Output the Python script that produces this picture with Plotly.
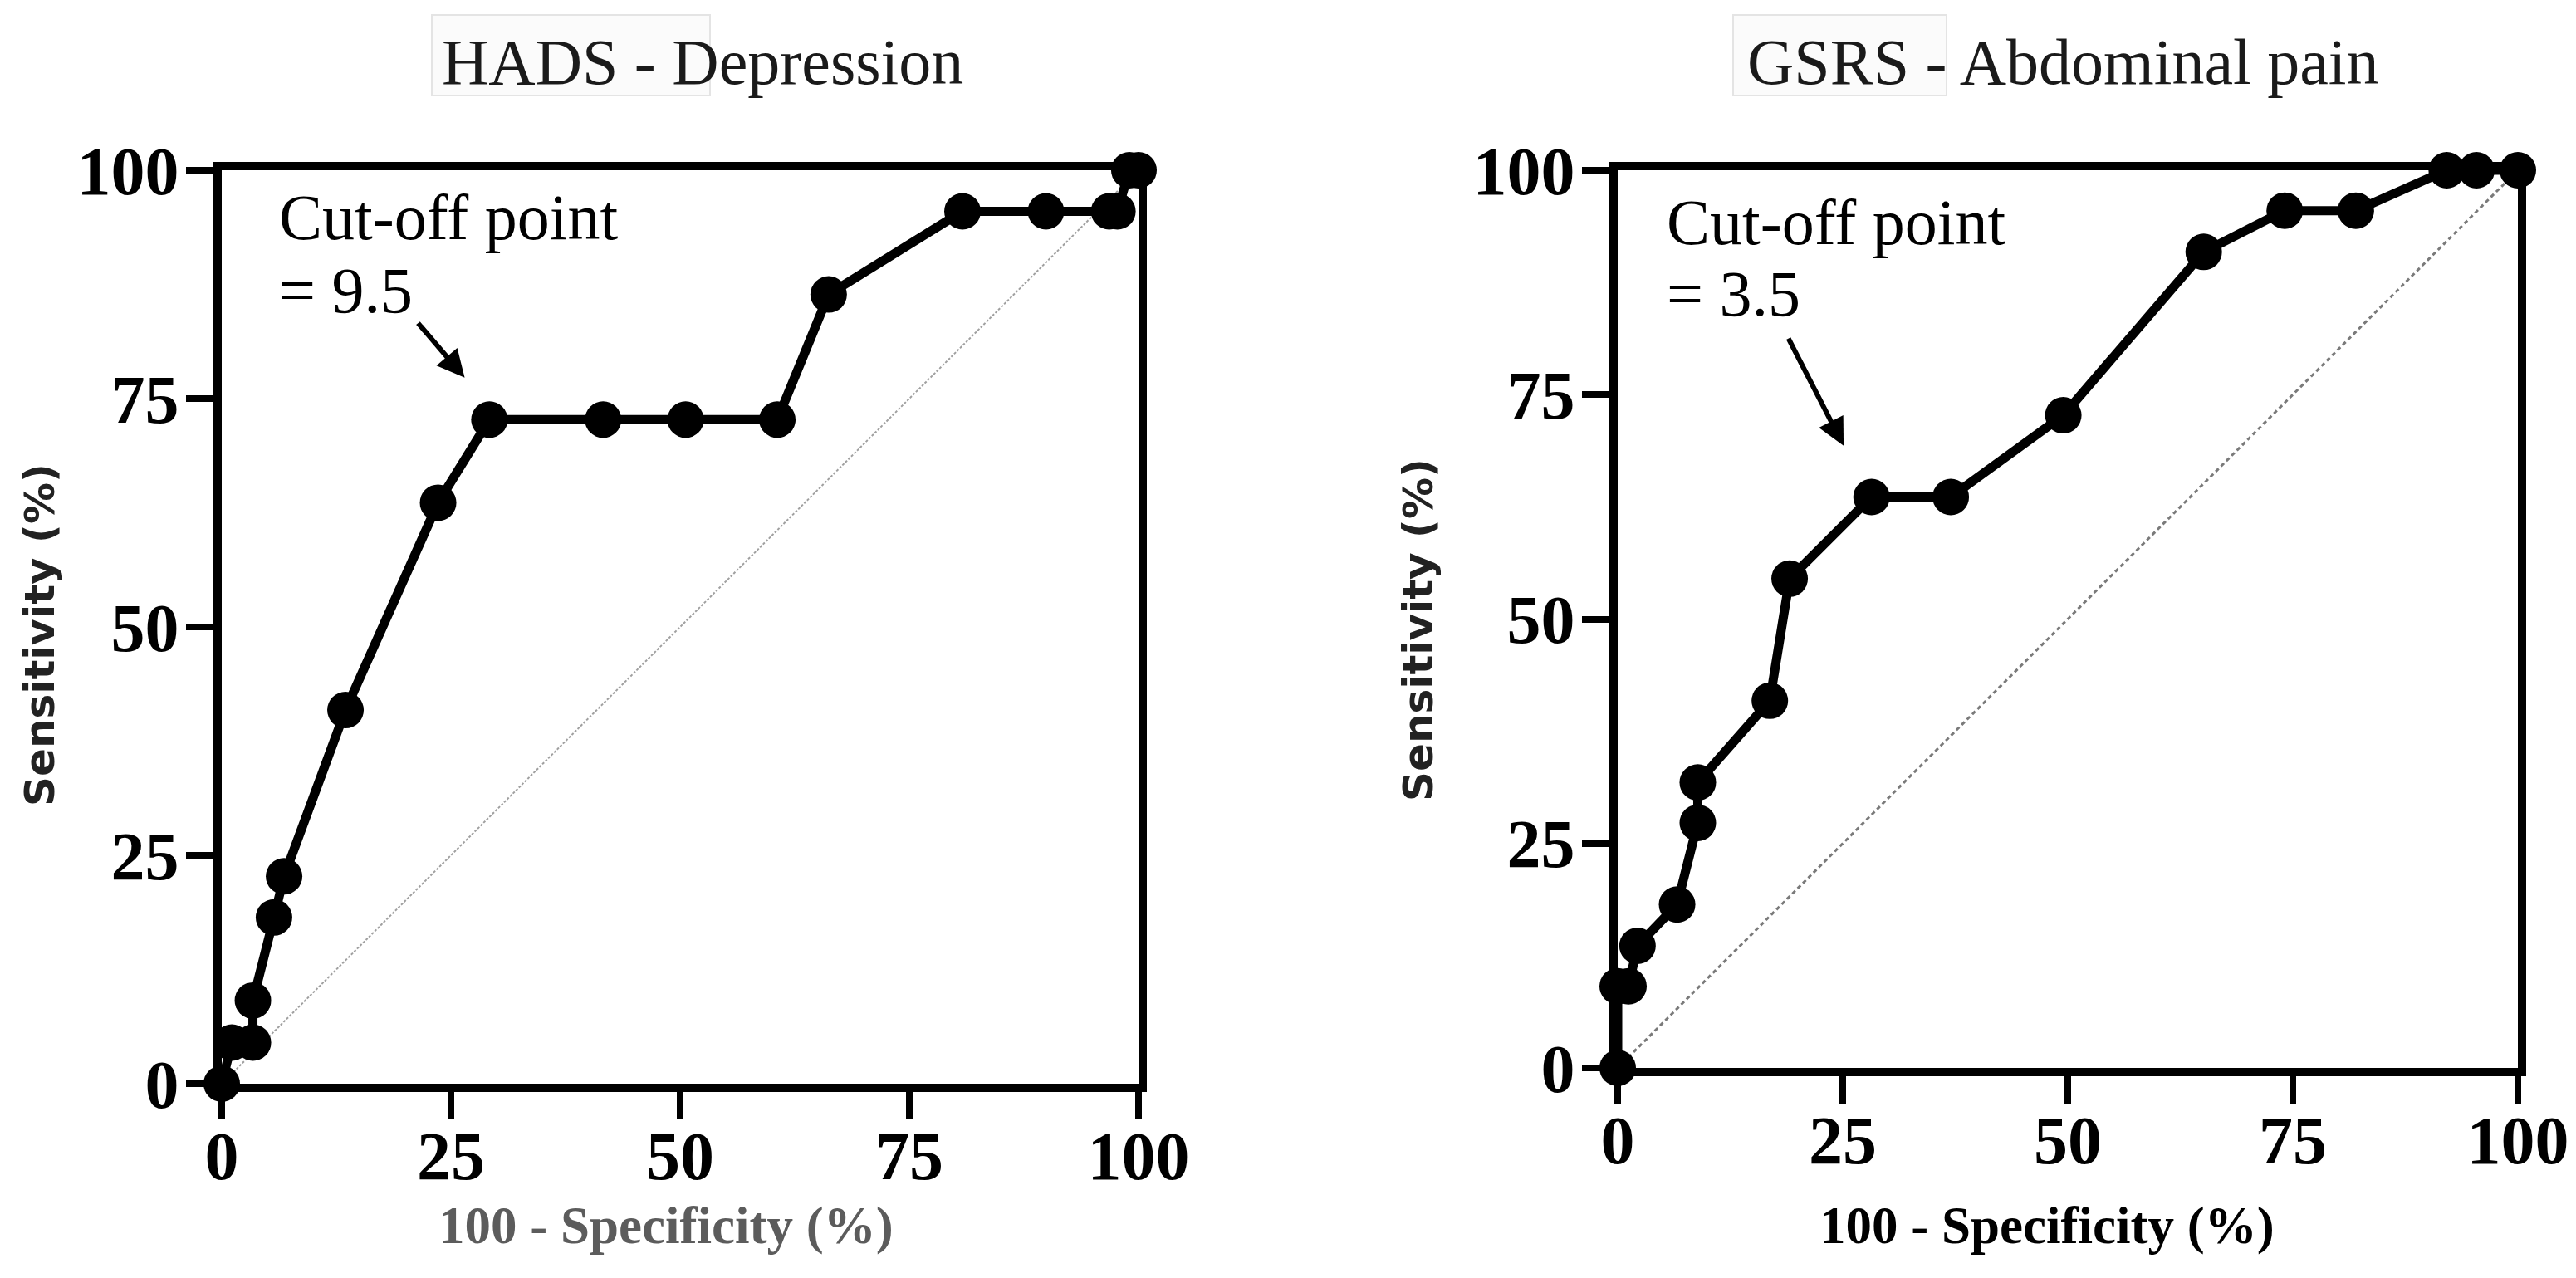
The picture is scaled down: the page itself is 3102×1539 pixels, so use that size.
import plotly.graph_objects as go

# HADS - Depression ROC curve (100 - specificity, sensitivity), in %
hads_fpr = [0, 1.1, 3.4, 3.4, 5.7, 6.8, 13.5, 23.6, 29.2, 41.6, 50.6, 60.6, 66.2, 80.8, 89.9, 96.8, 97.7, 99.0, 100]
hads_sens = [0, 4.5, 4.5, 9.1, 18.2, 22.7, 40.9, 63.6, 72.7, 72.7, 72.7, 72.7, 86.4, 95.5, 95.5, 95.5, 95.5, 100, 100]

# GSRS - Abdominal pain ROC curve
gsrs_fpr = [0, 0, 1.2, 2.2, 6.6, 8.9, 8.9, 16.9, 19.1, 28.2, 37.0, 49.5, 65.1, 74.1, 82.0, 92.1, 95.4, 100]
gsrs_sens = [0, 9.1, 9.1, 13.6, 18.2, 27.3, 31.8, 40.9, 54.5, 63.6, 63.6, 72.7, 90.9, 95.5, 95.5, 100, 100, 100]

diag = [0, 100]
tick_vals = [0, 25, 50, 75, 100]
tick_text = ["0", "25", "50", "75", "100"]

titles = ["HADS - Depression", "GSRS - Abdominal pain"]
cutoff_labels = ["= 9.5", "= 3.5"]
x_title = "100 - Specificity (%)"
y_title = "Sensitivity (%)"

W, H = 3102, 1539
SERIF = "Liberation Serif, Times New Roman, serif"
SANS = "DejaVu Sans, Verdana, sans-serif"

fig = go.Figure()

# diagonal reference lines
fig.add_trace(go.Scatter(x=diag, y=diag, mode="lines", xaxis="x", yaxis="y",
                         line=dict(color="#a0a0a0", width=2, dash="3px,2px"),
                         hoverinfo="skip", showlegend=False))
fig.add_trace(go.Scatter(x=diag, y=diag, mode="lines", xaxis="x2", yaxis="y2",
                         line=dict(color="#7a7a7a", width=3, dash="5px,4px"),
                         hoverinfo="skip", showlegend=False))

# ROC curves
fig.add_trace(go.Scatter(x=hads_fpr, y=hads_sens, mode="lines+markers", xaxis="x", yaxis="y",
                         line=dict(color="black", width=11),
                         marker=dict(size=44, color="black"),
                         cliponaxis=False, showlegend=False))
fig.add_trace(go.Scatter(x=gsrs_fpr, y=gsrs_sens, mode="lines+markers", xaxis="x2", yaxis="y2",
                         line=dict(color="black", width=11),
                         marker=dict(size=44, color="black"),
                         cliponaxis=False, showlegend=False))


def axis_style(domain, anchor, standoff):
    return dict(
        domain=domain, anchor=anchor, range=[0, 100], automargin=False,
        tickvals=tick_vals, ticktext=tick_text,
        showgrid=False, zeroline=False,
        showline=True, linecolor="black", linewidth=10, mirror=True,
        ticks="outside", ticklen=33, tickwidth=8, tickcolor="black",
        tickfont=dict(family=SERIF, size=82, color="black", weight="bold"),
        ticklabelstandoff=standoff,
        fixedrange=True,
    )


# plot areas (pixel positions)
left_dom_x = [259 / W, 1363 / W]
left_dom_y = [(H - 1297) / H, (H - 197) / H]
right_dom_x = [1940 / W, 3024 / W]
right_dom_y = [(H - 1278) / H, (H - 197) / H]

fig.update_layout(
    width=W, height=H,
    margin=dict(l=0, r=0, t=0, b=0, pad=0),
    paper_bgcolor="white", plot_bgcolor="white",
    xaxis=axis_style(left_dom_x, "y", -26),
    yaxis=axis_style(left_dom_y, "x", -8),
    xaxis2=axis_style(right_dom_x, "y2", -26),
    yaxis2=axis_style(right_dom_y, "x2", -8),
)

annotations = []

# panel titles
for cx, txt in zip([838, 2476], titles):
    annotations.append(dict(xref="paper", yref="paper", x=cx / W, y=1 - 66 / H,
                            text=txt, showarrow=False, xanchor="center", yanchor="middle",
                            font=dict(family=SERIF, size=78, color="#1a1a1a")))

# axis titles
for cx, col in zip([794, 2457], ["#5c5c5c", "black"]):
    annotations.append(dict(xref="paper", yref="paper", x=cx / W, y=1 - 1468 / H,
                            text=x_title, showarrow=False, xanchor="center", yanchor="middle",
                            font=dict(family=SERIF, size=63, color=col, weight="bold")))
for cx, cy in zip([40, 1700], [757, 751]):
    annotations.append(dict(xref="paper", yref="paper", x=cx / W, y=1 - cy / H,
                            text=y_title, showarrow=False, textangle=-90,
                            xanchor="center", yanchor="middle",
                            font=dict(family=SANS, size=50, color="#222222", weight="bold")))

# cut-off labels and arrows
cut_pos = [("x", "y", 6.1, 94.9, 86.9, (26.5, 77.3), (21.3, 83.4)),
           ("x2", "y2", 5.3, 94.2, 86.3, (25.1, 69.3), (18.9, 81.4))]
for (xr, yr, tx, ty1, ty2, tip, tail), lab in zip(cut_pos, cutoff_labels):
    annotations.append(dict(xref=xr, yref=yr, x=tx, y=ty1, text="Cut-off point",
                            showarrow=False, xanchor="left", yanchor="middle",
                            font=dict(family=SERIF, size=78, color="black")))
    annotations.append(dict(xref=xr, yref=yr, x=tx, y=ty2, text=lab,
                            showarrow=False, xanchor="left", yanchor="middle",
                            font=dict(family=SERIF, size=78, color="black")))
    annotations.append(dict(xref=xr, yref=yr, x=tip[0], y=tip[1],
                            axref=xr, ayref=yr, ax=tail[0], ay=tail[1],
                            text="", showarrow=True, arrowhead=2, arrowsize=1.1,
                            arrowwidth=6, arrowcolor="black", standoff=0))

fig.update_layout(annotations=annotations)

# faint boxes behind the first word of each title
shapes = []
for x0, x1 in [(512, 847), (2079, 2336)]:
    shapes.append(dict(type="rect", xref="paper", yref="paper",
                       x0=x0 / W, x1=x1 / W, y0=1 - 107 / H, y1=1 - 10 / H,
                       line=dict(color="#e4e4e4", width=2), fillcolor="#fbfbfb", layer="below"))
fig.update_layout(shapes=shapes)

fig.write_html("out.html")
